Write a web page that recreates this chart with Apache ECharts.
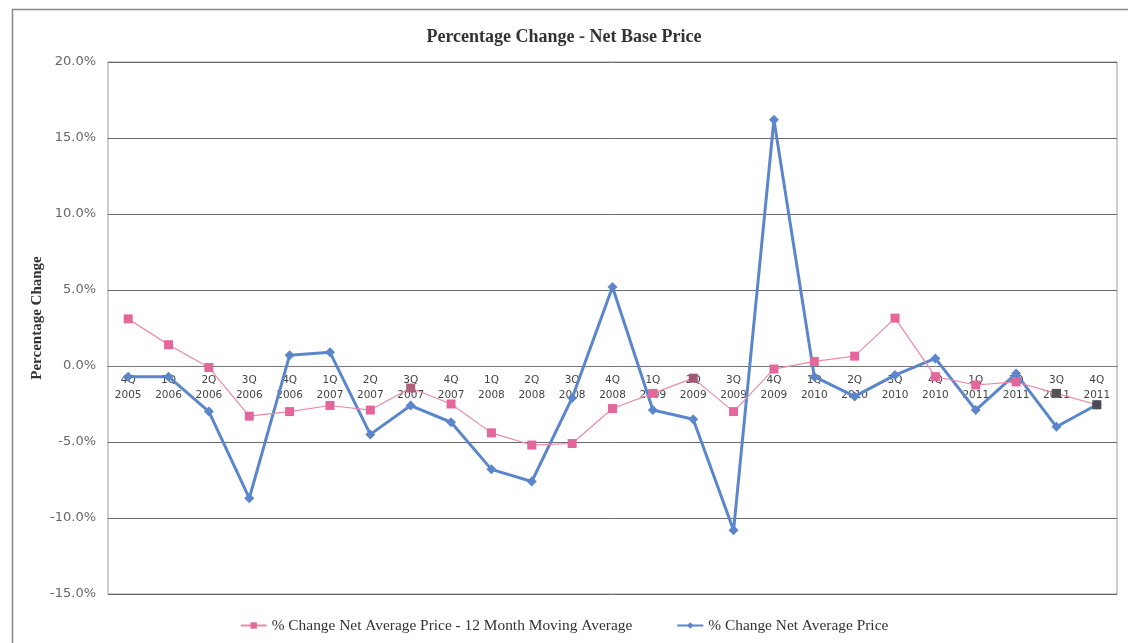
<!DOCTYPE html>
<html>
<head>
<meta charset="utf-8">
<title>Percentage Change - Net Base Price</title>
<script src="https://cdn.jsdelivr.net/npm/echarts@6/dist/echarts.min.js"></script>
<style>
  html, body { margin: 0; padding: 0; background: #fff; }
  #chart { width: 1128px; height: 643px; }
</style>
</head>
<body>
<div id="chart"></div>
<script>
// Quarter labels, 4Q 2005 through 4Q 2011
const quarters = [
  '4Q\n2005', '1Q\n2006', '2Q\n2006', '3Q\n2006', '4Q\n2006',
  '1Q\n2007', '2Q\n2007', '3Q\n2007', '4Q\n2007',
  '1Q\n2008', '2Q\n2008', '3Q\n2008', '4Q\n2008',
  '1Q\n2009', '2Q\n2009', '3Q\n2009', '4Q\n2009',
  '1Q\n2010', '2Q\n2010', '3Q\n2010', '4Q\n2010',
  '1Q\n2011', '2Q\n2011', '3Q\n2011', '4Q\n2011'
];

// % change, 12 month moving average
const movingAvg = [
  3.1, 1.4, -0.1, -3.3, -3.0,
  -2.6, -2.9, -1.45, -2.5,
  -4.4, -5.2, -5.1, -2.8,
  -1.8, -0.8, -3.0, -0.2,
  0.3, 0.65, 3.15, -0.7,
  -1.25, -1.05, -1.8, -2.55
];

// % change, quarterly net average price
const netAvgPrice = [
  -0.7, -0.7, -3.0, -8.7, 0.7,
  0.9, -4.5, -2.6, -3.7,
  -6.8, -7.6, -2.1, 5.2,
  -2.9, -3.5, -10.8, 16.2,
  -0.7, -2.0, -0.6, 0.5,
  -2.9, -0.5, -4.0, -2.55
];

// y-axis ticks (percent)
const yTicks = [-15, -10, -5, 0, 5, 10, 15, 20];

// points of the moving-average series drawn with a darker marker
const darkMarkers = { 7: '#b0607e', 14: '#a05a78', 23: '#555555', 24: '#4a4a5a' };

const serif = '"Liberation Serif", "DejaVu Serif", serif';
const sans = '"DejaVu Sans", sans-serif';

const GRID = { left: 108, right: 11, top: 62, bottom: 49 };
const HEIGHT = 643;

const chart = echarts.init(document.getElementById('chart'), null, { renderer: 'canvas' });

const maData = movingAvg.map((v, i) => darkMarkers[i]
  ? { value: v, itemStyle: { color: darkMarkers[i] } }
  : v);

chart.setOption({
  animation: false,
  backgroundColor: '#ffffff',
  title: {
    text: 'Percentage Change - Net Base Price',
    left: 'center',
    top: 23,
    textStyle: { fontFamily: serif, fontWeight: 'bold', fontSize: 18, color: '#333' }
  },
  graphic: [{
    type: 'rect',
    shape: { x: 12.5, y: 9.5, width: 1140, height: 660 },
    style: { fill: 'none', stroke: '#888', lineWidth: 1.5 },
    silent: true
  }],
  legend: {
    data: [
      '% Change Net Average Price - 12 Month Moving Average',
      '% Change Net Average Price'
    ],
    bottom: 5,
    left: 'center',
    itemGap: 44,
    itemWidth: 26,
    itemHeight: 8,
    textStyle: { fontFamily: serif, fontSize: 15.4, color: '#333' }
  },
  grid: Object.assign({ show: true, borderColor: '#999', borderWidth: 1 }, GRID),
  xAxis: {
    type: 'category',
    data: quarters,
    boundaryGap: true,
    axisLine: { onZero: false, lineStyle: { color: '#777' } },
    axisTick: { show: false },
    axisLabel: {
      interval: 0,
      margin: 7,
      fontFamily: sans,
      fontSize: 10.5,
      lineHeight: 15,
      color: '#444'
    },
    splitLine: { show: false }
  },
  yAxis: {
    type: 'value',
    min: yTicks[0],
    max: yTicks[yTicks.length - 1],
    interval: 5,
    name: 'Percentage Change',
    nameLocation: 'middle',
    nameGap: 63,
    nameMoveOverlap: false,
    nameTextStyle: {
      fontFamily: serif, fontWeight: 'bold', fontSize: 15, color: '#333',
      padding: [0, 0, 0, 20]
    },
    axisLine: { show: false },
    axisTick: { show: false },
    axisLabel: {
      margin: 12,
      fontFamily: sans,
      fontSize: 13,
      color: '#666',
      formatter: v => v.toFixed(1) + '%'
    },
    splitLine: { lineStyle: { color: '#6a6a6a', width: 1 } }
  },
  series: [
    {
      name: '% Change Net Average Price',
      type: 'line',
      data: netAvgPrice,
      symbol: 'diamond',
      symbolSize: 10,
      lineStyle: { color: '#5b86cc', width: 3 },
      itemStyle: { color: '#5b86cc' },
      z: 2
    },
    {
      name: '% Change Net Average Price - 12 Month Moving Average',
      type: 'line',
      data: maData,
      symbol: 'rect',
      symbolSize: 9,
      lineStyle: { color: '#e98aa8', width: 1.2 },
      itemStyle: { color: '#e5669a' },
      z: 3
    }
  ]
});

// The quarter labels sit on the 0% line: shift the category axis up
// from the bottom of the plot to where the value scale puts zero.
const zeroY = chart.convertToPixel({ yAxisIndex: 0 }, 0);
const bottomY = HEIGHT - GRID.bottom;
chart.setOption({ xAxis: { offset: -(bottomY - zeroY) } });
</script>
</body>
</html>
